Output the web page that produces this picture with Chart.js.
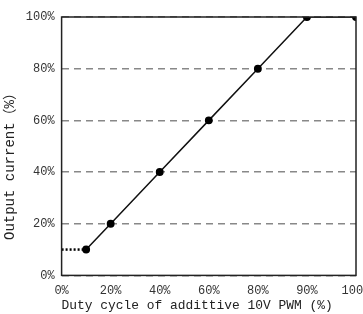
<!DOCTYPE html>
<html>
<head>
<meta charset="utf-8">
<script src="https://cdn.jsdelivr.net/npm/chart.js@4"></script>
<style>
  html, body { margin: 0; padding: 0; background: #fff; }
  #wrap { width: 363px; height: 314px; }
</style>
</head>
<body>
<div id="wrap"><canvas id="lineChart"></canvas></div>
<script>
// x tick labels sit at evenly spaced positions 0..6
const xLabels = ["0%", "20%", "40%", "60%", "80%", "90%", "100%"];
const xPos = [0.5, 1, 2, 3, 4, 5, 6];
const current = [10, 20, 40, 60, 80, 100, 100];
// dotted lead-in before the first point
const leadX = [0, 0.5];
const leadY = [10, 10];

const FONT = "'Liberation Mono', 'Noto Sans CJK SC', monospace";

const frame = {
    id: "frame",
    afterDraw(chart) {
        const a = chart.chartArea, ctx = chart.ctx;
        ctx.save();
        ctx.strokeStyle = "#222";
        ctx.lineWidth = 1.5;
        ctx.strokeRect(a.left, a.top, a.right - a.left, a.bottom - a.top);
        ctx.restore();
    }
};

new Chart(document.getElementById("lineChart"), {
    type: "scatter",
    data: {
        datasets: [{
            data: xPos.map((x, i) => ({ x: x, y: current[i] })),
            showLine: true,
            borderColor: "#111",
            borderWidth: 1.5,
            pointRadius: 3.2,
            pointBackgroundColor: "#000",
            pointBorderColor: "#000"
        }, {
            data: leadX.map((x, i) => ({ x: x, y: leadY[i] })),
            showLine: true,
            borderColor: "#000",
            borderWidth: 2.5,
            borderDash: [2, 2],
            pointRadius: 0
        }]
    },
    options: {
        responsive: true,
        maintainAspectRatio: false,
        animation: false,
        layout: { padding: { top: 17, right: 0, left: 2, bottom: 0 } },
        plugins: { legend: { display: false }, tooltip: { enabled: false } },
        scales: {
            x: {
                type: "linear",
                min: 0,
                max: 6,
                afterFit: s => { s.paddingRight = 7; },
                grid: { display: false },
                border: { display: false },
                ticks: {
                    stepSize: 1,
                    autoSkip: false,
                    maxRotation: 0,
                    color: "#333",
                    font: { family: FONT, size: 12 },
                    padding: 0,
                    callback: v => xLabels[v]
                },
                title: {
                    display: true,
                    text: "Duty cycle of addittive 10V PWM (%)   ",
                    color: "#222",
                    font: { family: FONT, size: 13.5 },
                    padding: { top: 0, bottom: 0 }
                }
            },
            y: {
                min: 0,
                max: 100,
                grid: {
                    color: "#888",
                    lineWidth: 1.5,
                    drawTicks: false
                },
                border: { display: false, dash: [7, 5] },
                ticks: {
                    stepSize: 20,
                    color: "#333",
                    font: { family: FONT, size: 12 },
                    padding: 7,
                    callback: v => v + "%"
                },
                title: {
                    display: true,
                    text: "Output current（%）    ",
                    color: "#222",
                    font: { family: FONT, size: 14 },
                    padding: { top: 0, bottom: 0 }
                }
            }
        }
    },
    plugins: [frame]
});
</script>
</body>
</html>
